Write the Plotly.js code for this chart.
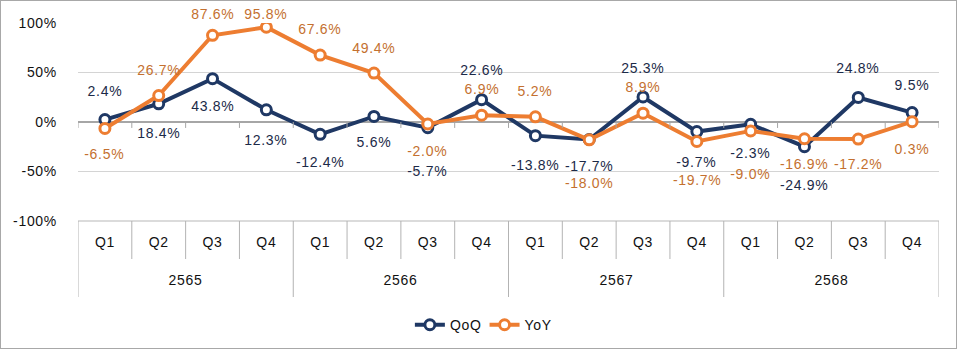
<!DOCTYPE html>
<html>
<head>
<meta charset="utf-8">
<script src="https://cdn.plot.ly/plotly-3.0.1.min.js"></script>
<style>
  html, body { margin: 0; padding: 0; background: #fff; }
  #wrap { position: relative; width: 960px; height: 350px; }
  #chart { width: 960px; height: 350px; }
  #frame { position: absolute; left: 0; top: 0; width: 955px; height: 347px; border: 1px solid #a8a8a8; pointer-events: none; }
  #chart text { letter-spacing: 0.7px; }
</style>
</head>
<body>
<div id="wrap"><div id="chart"></div><div id="frame"></div></div>
<script>
// ---- data ----
const years = ["2565", "2566", "2567", "2568"];
const quarters = ["Q1", "Q2", "Q3", "Q4"];
const qoq = [2.4, 18.4, 43.8, 12.3, -12.4, 5.6, -5.7, 22.6, -13.8, -17.7, 25.3, -9.7, -2.3, -24.9, 24.8, 9.5];
const yoy = [-6.5, 26.7, 87.6, 95.8, 67.6, 49.4, -2.0, 6.9, 5.2, -18.0, 8.9, -19.7, -9.0, -16.9, -17.2, 0.3];
const seriesNames = ["QoQ", "YoY"];
const yTickVals = [-100, -50, 0, 50, 100];

// ---- label placement (styling, pixel offsets) ----
const qoqShift = [29, -29, -27, -30, -28, -26, -43, 30, -29, -26, 29, -30, -29, -38, 29, 28];
const yoyShift = [-26, 26, 21, 13, 26, 25, -27, 26, 26, -43, 26, -38, -43, -25, -25, -27];

const navy = "#1f3864", orange = "#ed7d31";
const navyText = "#1c2a48", orangeText = "#c4702f";
const FONT = "Liberation Sans, Arial, sans-serif";

const n = qoq.length;
const idx = qoq.map((_, i) => i);
const qLabels = idx.map(i => quarters[i % quarters.length]);

function trace(name, vals, color) {
  return {
    type: "scatter", mode: "lines+markers", name: name,
    x: idx, y: vals,
    line: { color: color, width: 4 },
    marker: { symbol: "circle", size: 10, color: "#ffffff", line: { color: color, width: 3 } },
    hoverinfo: "skip"
  };
}

const fmt = v => v.toFixed(1) + "%";
const annotations = [];
qoq.forEach((v, i) => annotations.push({
  x: i, y: v, xref: "x", yref: "y", text: fmt(v), showarrow: false,
  yshift: qoqShift[i], font: { family: FONT, size: 14, color: navyText }
}));
yoy.forEach((v, i) => annotations.push({
  x: i, y: v, xref: "x", yref: "y", text: fmt(v), showarrow: false,
  yshift: yoyShift[i], font: { family: FONT, size: 14, color: orangeText }
}));

// year labels centred under their quarters
const perYear = quarters.length;
years.forEach((yr, k) => annotations.push({
  x: k * perYear + (perYear - 1) / 2, y: 0, xref: "x", yref: "paper",
  text: yr, showarrow: false, yanchor: "middle", yshift: -59,
  font: { family: FONT, size: 14, color: "#111" }
}));

const plotH = 350 - 23 - 129;
const shapes = [];
// top border of the category table
shapes.push({ type: "line", xref: "paper", yref: "paper", x0: 0, x1: 1, y0: 0, y1: 0,
  line: { color: "#cfcfcf", width: 1.5 } });
// tick marks on zero line at category boundaries
for (let b = 0; b <= n; b++) {
  shapes.push({ type: "line", xref: "x", yref: "y", x0: b - 0.5, x1: b - 0.5, y0: 0, y1: -6,
    line: { color: "#a6a6a6", width: 1 } });
}
// table separators
for (let b = 0; b <= n; b++) {
  const isYear = b % perYear === 0;
  const depth = isYear ? 76 : 38;
  shapes.push({ type: "line", xref: "x", yref: "paper", x0: b - 0.5, x1: b - 0.5, y0: 0, y1: -depth / plotH,
    line: { color: "#b3b3b3", width: 1 } });
}

const layout = {
  width: 960, height: 350,
  margin: { l: 78, r: 21, t: 23, b: 129 },
  paper_bgcolor: "#ffffff", plot_bgcolor: "#ffffff",
  font: { family: FONT, size: 14, color: "#111" },
  showlegend: true,
  legend: {
    orientation: "h", xref: "container", yref: "container",
    x: 0.503, xanchor: "center", y: 0.071, yanchor: "middle",
    font: { family: FONT, size: 14, color: "#111" },
    itemclick: false, itemdoubleclick: false
  },
  xaxis: {
    range: [-0.5, n - 0.5], tickmode: "array", tickvals: idx, ticktext: qLabels,
    showgrid: false, zeroline: false, showline: false, ticks: "",
    ticklabelstandoff: 11, fixedrange: true,
    tickfont: { family: FONT, size: 14, color: "#111" }
  },
  yaxis: {
    range: [-100, 100], tickmode: "array", tickvals: yTickVals,
    ticktext: yTickVals.map(v => v + "%"),
    showgrid: true, gridcolor: "#d4d4d4", gridwidth: 1.5,
    zeroline: true, zerolinecolor: "#a6a6a6", zerolinewidth: 1.5,
    showline: false, ticks: "", ticklabelstandoff: 20, fixedrange: true,
    tickfont: { family: FONT, size: 14, color: "#111" }
  },
  annotations: annotations,
  shapes: shapes
};

Plotly.newPlot("chart", [trace(seriesNames[0], qoq, navy), trace(seriesNames[1], yoy, orange)], layout,
  { displayModeBar: false, staticPlot: true });
</script>
</body>
</html>
